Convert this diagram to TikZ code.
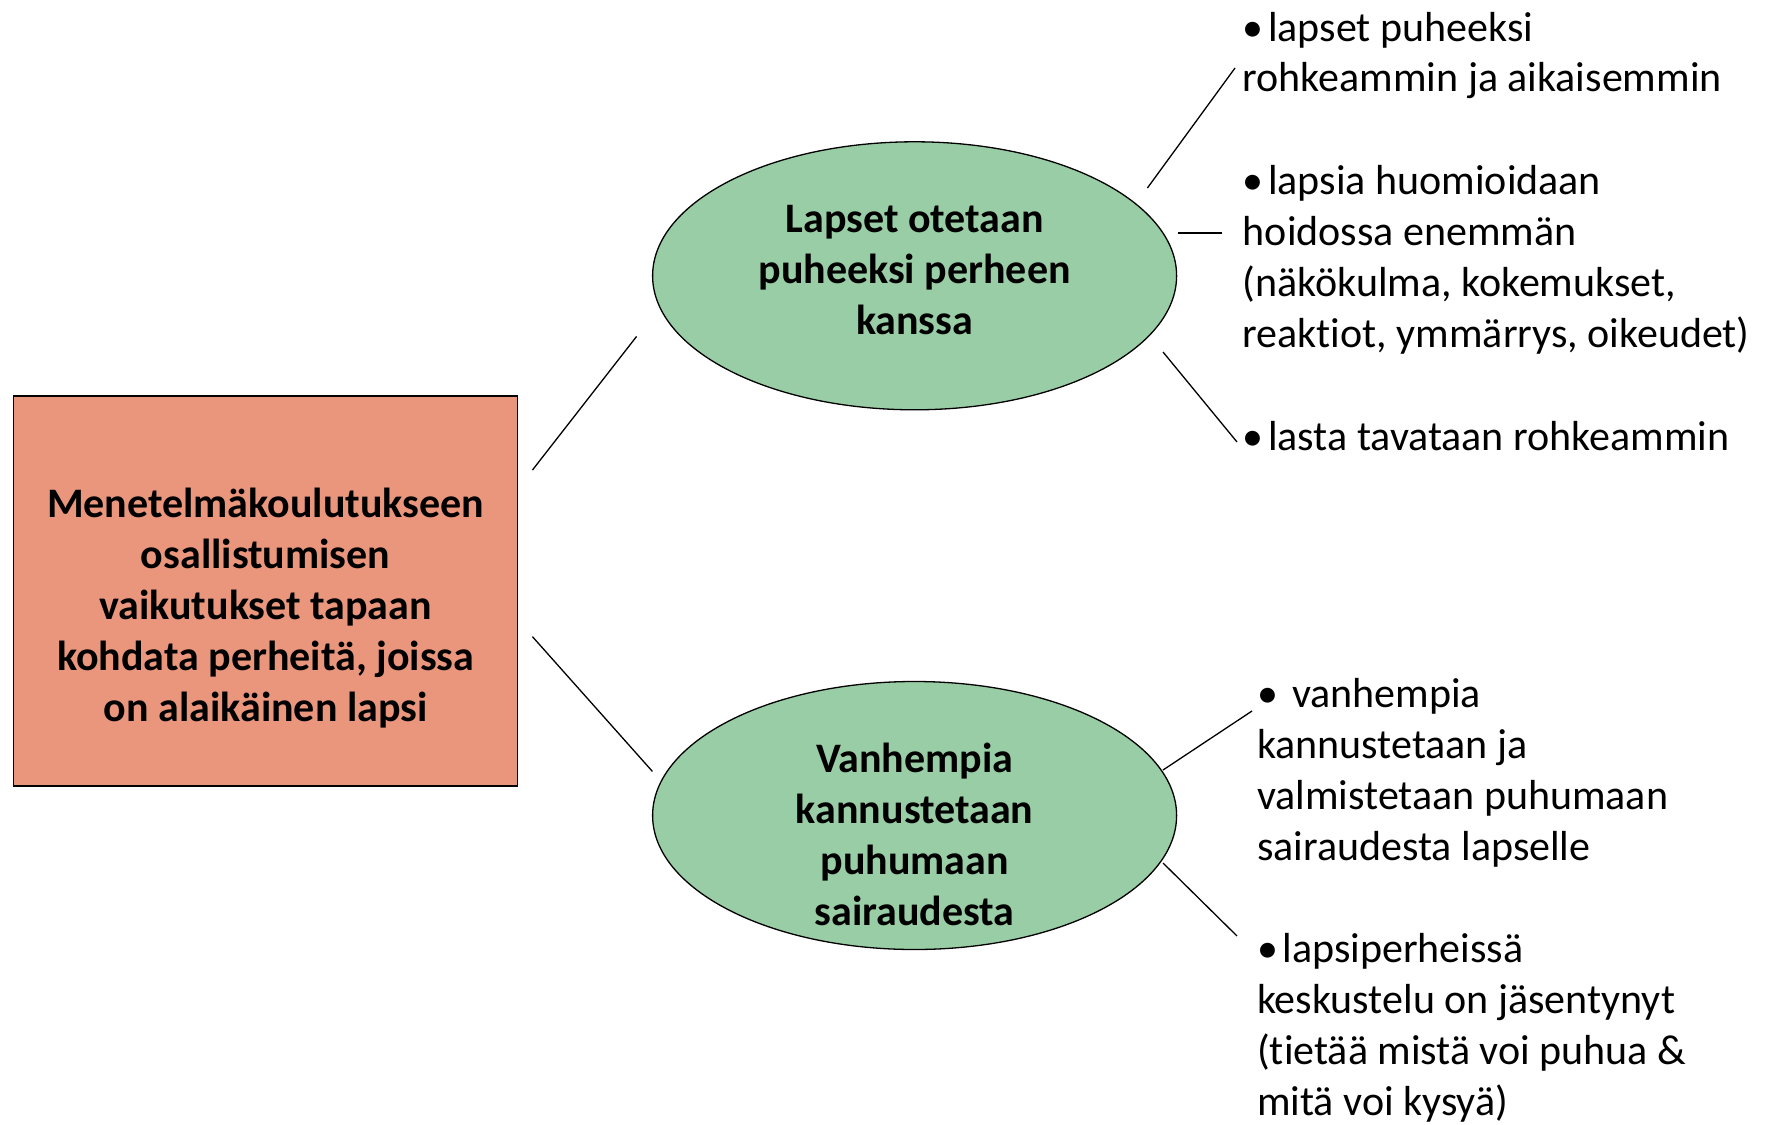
\documentclass[tikz,border=0pt]{standalone}
\usepackage{fontspec}
\setmainfont{Carlito}[Ligatures=NoCommon]
\usetikzlibrary{shapes.geometric}
\definecolor{boxfill}{RGB}{233,150,125}
\definecolor{ovalfill}{RGB}{153,205,166}
\newcommand{\blt}{•\kern-5pt\ }

\begin{document}
\begin{tikzpicture}[x=1pt,y=-1pt,
  title/.style={font=\fontsize{42}{51}\selectfont\bfseries, align=center, inner sep=0pt},
  oval/.style={ellipse, draw=black, line width=1.3pt, fill=ovalfill,
    minimum width=524pt, minimum height=268pt, inner sep=0pt},
  mainbox/.style={rectangle, draw=black, line width=1.5pt, fill=boxfill,
    minimum width=504pt, minimum height=390pt, inner sep=0pt},
  % anchored at the baseline of the last line of each item
  item/.style={font=\fontsize{42}{51}\selectfont, align=left, anchor=base west, inner sep=0pt},
  link/.style={line width=1.3pt}]

\useasboundingbox (0,0) rectangle (1776,1124);
\fill[white] (0,0) rectangle (1776,1124);

% central box and the two themes
\node[mainbox] (box) at (265.6,591) {};
\node[title] (boxtext) at (265.6,608)
  {Menetelmäkoulutukseen\\osallistumisen\\vaikutukset tapaan\\kohdata perheitä, joissa\\on alaikäinen lapsi};

\node[oval] (e1) at (914.6,275.8) {};
\node[title] (e1text) at (914.6,269.6) {Lapset otetaan\\puheeksi perheen\\kanssa};

\node[oval] (e2) at (914.6,815.5) {};
\node[title] (e2text) at (914.6,834) {Vanhempia\\kannustetaan\\puhumaan\\sairaudesta};

% bullet texts
\node[item] (b1) at (1242.6,92) {\blt lapset puheeksi\\rohkeammin ja aikaisemmin};
\node[item] (b2) at (1242.6,347) {\blt lapsia huomioidaan\\hoidossa enemmän\\(näkökulma, kokemukset,\\reaktiot, ymmärrys, oikeudet)};
\node[item] (b3) at (1242.6,450) {\blt lasta tavataan rohkeammin};
\node[item] (b4) at (1257,860) {\blt\ vanhempia\\kannustetaan ja\\valmistetaan puhumaan\\sairaudesta lapselle};
\node[item] (b5) at (1257,1115) {\blt lapsiperheissä\\keskustelu on jäsentynyt\\(tietää mistä voi puhua \&\\mitä voi kysyä)};

% connector end points
\coordinate (boxup)   at (532.4,470.1);
\coordinate (e1left)  at (636.6,336.4);
\coordinate (boxdown) at (532.4,636.6);
\coordinate (e2left)  at (652.4,771.4);
\coordinate (e1a) at (1147.4,188);  \coordinate (b1end) at (1235,68);
\coordinate (e1b) at (1178,233);    \coordinate (b2end) at (1222,233);
\coordinate (e1c) at (1163,352);    \coordinate (b3end) at (1237,442);
\coordinate (e2a) at (1163,770);    \coordinate (b4end) at (1252,711);
\coordinate (e2b) at (1163,863);    \coordinate (b5end) at (1237,936);

\draw[link] (boxup) -- (e1left);
\draw[link] (boxdown) -- (e2left);
\draw[link] (e1a) -- (b1end);
\draw[link] (e1b) -- (b2end);
\draw[link] (e1c) -- (b3end);
\draw[link] (e2a) -- (b4end);
\draw[link] (e2b) -- (b5end);
\end{tikzpicture}
\end{document}
